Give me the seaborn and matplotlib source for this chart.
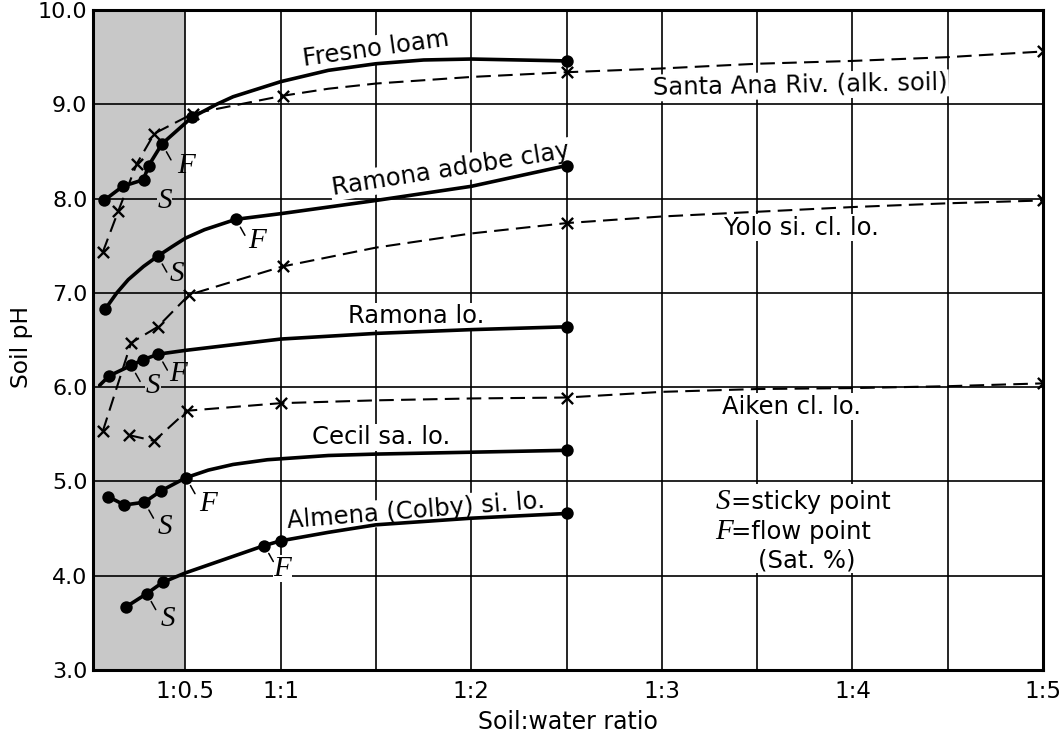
import matplotlib
matplotlib.use("Agg")
import matplotlib.pyplot as plt
from matplotlib.patches import Rectangle
import pandas as pd
import seaborn as sns

# ---------------- axis scales ----------------
x_tick_values = [0.5, 1.0, 1.5, 2.0, 2.5, 3.0, 3.5, 4.0, 4.5, 5.0]
x_tick_labels = ["1:0.5", "1:1", "", "1:2", "", "1:3", "", "1:4", "", "1:5"]
y_tick_values = [3, 4, 5, 6, 7, 8, 9, 10]
y_tick_labels = ["3.0", "4.0", "5.0", "6.0", "7.0", "8.0", "9.0", "10.0"]

# ---------------- measured pH (dots = solid curves, crosses = dashed) ----------------
# each soil: measured points, plus points along the drawn curve between them
fresno_x = [0.073, 0.171, 0.280, 0.307, 0.377, 0.533, 2.50]
fresno_ph = [7.98, 8.13, 8.20, 8.35, 8.58, 8.86, 9.46]
fresno_curve_x = [0.664, 0.75, 1.0, 1.25, 1.5, 1.75, 2.0]
fresno_curve_ph = [9.00, 9.08, 9.24, 9.36, 9.43, 9.47, 9.48]

santa_ana_x = [0.066, 0.148, 0.245, 0.337, 0.538, 1.01, 2.50, 5.0]
santa_ana_ph = [7.43, 7.87, 8.37, 8.69, 8.90, 9.09, 9.34, 9.56]
santa_ana_curve_x = [1.25, 1.5, 2.0, 3.0, 3.5, 4.0, 4.5]
santa_ana_curve_ph = [9.165, 9.22, 9.29, 9.38, 9.43, 9.46, 9.50]

ramona_adobe_x = [0.080, 0.355, 0.765, 2.50]
ramona_adobe_ph = [6.83, 7.39, 7.78, 8.35]
ramona_adobe_curve_x = [0.14, 0.2, 0.28, 0.43, 0.5, 0.6, 1.0, 1.5, 2.0]
ramona_adobe_curve_ph = [7.00, 7.14, 7.28, 7.49, 7.58, 7.67, 7.84, 7.98, 8.13]

yolo_x = [0.066, 0.215, 0.355, 0.520, 1.01, 2.50, 5.0]
yolo_ph = [5.53, 6.47, 6.64, 6.98, 7.28, 7.74, 7.98]
yolo_curve_x = [1.5, 2.0, 3.0, 3.5, 4.0, 4.5]
yolo_curve_ph = [7.48, 7.63, 7.81, 7.86, 7.91, 7.95]

ramona_lo_x = [0.100, 0.215, 0.276, 0.358, 2.50]
ramona_lo_ph = [6.12, 6.23, 6.29, 6.35, 6.64]
ramona_lo_curve_x = [0.05, 0.5, 1.0, 1.5, 2.0]
ramona_lo_curve_ph = [6.02, 6.39, 6.51, 6.57, 6.61]

aiken_x = [0.206, 0.337, 0.510, 1.00, 2.50, 5.0]
aiken_ph = [5.49, 5.43, 5.75, 5.83, 5.89, 6.04]
aiken_curve_x = [1.5, 2.0, 3.0, 3.5, 4.0, 4.5]
aiken_curve_ph = [5.86, 5.88, 5.95, 5.98, 5.99, 6.01]

cecil_x = [0.093, 0.180, 0.285, 0.372, 0.503, 2.50]
cecil_ph = [4.84, 4.75, 4.78, 4.90, 5.04, 5.33]
cecil_curve_x = [0.62, 0.75, 0.93, 1.25, 1.5, 2.0]
cecil_curve_ph = [5.12, 5.18, 5.23, 5.275, 5.29, 5.31]

almena_x = [0.189, 0.297, 0.381, 0.914, 1.00, 2.50]
almena_ph = [3.67, 3.81, 3.93, 4.32, 4.37, 4.66]
almena_curve_x = [0.5, 0.7, 1.25, 1.5, 2.0]
almena_curve_ph = [4.03, 4.17, 4.46, 4.54, 4.61]


def soil_frame(name, kind, px, py, cx, cy):
    pts = pd.DataFrame({"soil": name, "kind": kind, "ratio": px, "pH": py, "measured": True})
    crv = pd.DataFrame({"soil": name, "kind": kind, "ratio": cx, "pH": cy, "measured": False})
    return pd.concat([pts, crv], ignore_index=True)


df = pd.concat([
    soil_frame("Fresno loam", "solid", fresno_x, fresno_ph, fresno_curve_x, fresno_curve_ph),
    soil_frame("Santa Ana Riv.", "dashed", santa_ana_x, santa_ana_ph, santa_ana_curve_x, santa_ana_curve_ph),
    soil_frame("Ramona adobe clay", "solid", ramona_adobe_x, ramona_adobe_ph,
               ramona_adobe_curve_x, ramona_adobe_curve_ph),
    soil_frame("Yolo si. cl. lo.", "dashed", yolo_x, yolo_ph, yolo_curve_x, yolo_curve_ph),
    soil_frame("Ramona lo.", "solid", ramona_lo_x, ramona_lo_ph, ramona_lo_curve_x, ramona_lo_curve_ph),
    soil_frame("Aiken cl. lo.", "dashed", aiken_x, aiken_ph, aiken_curve_x, aiken_curve_ph),
    soil_frame("Cecil sa. lo.", "solid", cecil_x, cecil_ph, cecil_curve_x, cecil_curve_ph),
    soil_frame("Almena si. lo.", "solid", almena_x, almena_ph, almena_curve_x, almena_curve_ph),
], ignore_index=True).sort_values(["soil", "ratio"])

# ---------------- style ----------------
sns.set_theme(style="white")
plt.rcParams["font.family"] = ["DejaVu Sans"]

SHADE = "#c8c8c8"
SERIF_IT = dict(fontfamily="Liberation Serif", fontstyle="italic")

fig = plt.figure(figsize=(10.64, 7.38), dpi=100)
ax = fig.add_axes([93 / 1064, 1 - 670 / 738, 950 / 1064, 660 / 738])
ax.set_xlim(0.015, 5.0)
ax.set_ylim(3, 10)

# shaded band up to 1:0.5
ax.axvspan(0.015, 0.5, facecolor=SHADE, edgecolor="none", zorder=0)

# curves
solid = df[df["kind"] == "solid"]
dashed = df[df["kind"] == "dashed"]
sns.lineplot(data=solid, x="ratio", y="pH", units="soil", estimator=None, sort=True,
             color="black", linewidth=2.6, ax=ax, zorder=2)
sns.lineplot(data=dashed, x="ratio", y="pH", units="soil", estimator=None, sort=True,
             color="black", linewidth=1.5, linestyle=(0, (7, 3.5)), ax=ax, zorder=2)

# measured points
sns.scatterplot(data=solid[solid["measured"]], x="ratio", y="pH", marker="o", s=80,
                color="black", edgecolor="black", linewidth=0, ax=ax, zorder=3)
sns.scatterplot(data=dashed[dashed["measured"]], x="ratio", y="pH", marker="x", s=65,
                color="black", linewidth=1.7, ax=ax, zorder=3)

# axes, ticks, grid
ax.set_xticks(x_tick_values, x_tick_labels)
ax.set_yticks(y_tick_values, y_tick_labels)
ax.tick_params(axis="both", length=0, labelsize=16, colors="black")
ax.tick_params(axis="x", labelsize=16.6, pad=7)
ax.tick_params(axis="y", pad=4)
ax.grid(True, color="black", linewidth=1.2)
ax.set_axisbelow(True)
for sp in ax.spines.values():
    sp.set_visible(True)
    sp.set_color("black")
    sp.set_linewidth(2.2)
ax.set_xlabel("Soil:water ratio", fontsize=17, color="black", labelpad=5)
ax.set_ylabel("Soil pH", fontsize=16.8, color="black")
ax.yaxis.set_label_coords(-0.063, 0.49)

# curve names
label_kw = dict(fontsize=17.5, color="black", ha="center", va="center", zorder=1.5,
                rotation_mode="anchor",
                bbox=dict(facecolor="white", edgecolor="none", pad=1.0))
ax.text(1.50, 9.59, "Fresno loam", rotation=8, **label_kw)
ax.text(1.89, 8.31, "Ramona adobe clay", rotation=9, **label_kw)
ax.text(3.725, 9.20, "Santa Ana Riv. (alk. soil)", rotation=1, **label_kw)
ax.text(3.73, 7.69, "Yolo si. cl. lo.", **label_kw)
ax.text(1.71, 6.75, "Ramona lo.", **label_kw)
ax.text(3.68, 5.79, "Aiken cl. lo.", **label_kw)
ax.text(1.526, 5.47, "Cecil sa. lo.", **label_kw)
ax.text(1.71, 4.69, "Almena (Colby) si. lo.", rotation=4.5, **label_kw)

# sticky (S) and flow (F) points: letter offset (px right, px down) from its dot,
# whether a leader tick is drawn, and the backdrop where the letter sits on a grid line
marks = [
    (fresno_x[2], fresno_ph[2], "S", 21, 21, False, SHADE),
    (fresno_x[4], fresno_ph[4], "F", 24, 22, True, None),
    (ramona_adobe_x[1], ramona_adobe_ph[1], "S", 19, 18, True, None),
    (ramona_adobe_x[2], ramona_adobe_ph[2], "F", 21, 22, True, None),
    (ramona_lo_x[1], ramona_lo_ph[1], "S", 22, 21, True, SHADE),
    (ramona_lo_x[3], ramona_lo_ph[3], "F", 20, 20, True, None),
    (cecil_x[2], cecil_ph[2], "S", 21, 25, True, None),
    (cecil_x[4], cecil_ph[4], "F", 22, 26, True, None),
    (almena_x[1], almena_ph[1], "S", 21, 25, True, None),
    (almena_x[3], almena_ph[3], "F", 18, 23, True, "white"),
]
for mx, my, letter, dx, dy, lead, bg in marks:
    box = dict(facecolor=bg, edgecolor="none", pad=0.5) if bg else None
    ax.annotate(letter, xy=(mx, my), xytext=(dx, -dy), textcoords="offset pixels",
                ha="center", va="center", fontsize=21, color="black", zorder=1.6,
                bbox=box, **SERIF_IT)
    if lead:
        ax.annotate("", xy=(mx, my), xytext=(9, -16), textcoords="offset pixels",
                    arrowprops=dict(arrowstyle="-", color="black", lw=1.1,
                                    shrinkA=0, shrinkB=6.5), zorder=2.5)

# key
ax.add_patch(Rectangle((3.3, 4.03), 0.95, 0.94, facecolor="white", edgecolor="none", zorder=1))
key_kw = dict(fontsize=17.5, color="black", va="baseline", ha="left", zorder=1.5)
ax.text(3.28, 4.71, "S", fontsize=21, color="black", va="baseline", ha="left", zorder=1.5, **SERIF_IT)
ax.text(3.365, 4.71, "=sticky point", **key_kw)
ax.text(3.28, 4.39, "F", fontsize=21, color="black", va="baseline", ha="left", zorder=1.5, **SERIF_IT)
ax.text(3.365, 4.39, "=flow point", **key_kw)
ax.text(3.505, 4.09, "(Sat. %)", **key_kw)

fig.savefig("out.png", dpi=100)
